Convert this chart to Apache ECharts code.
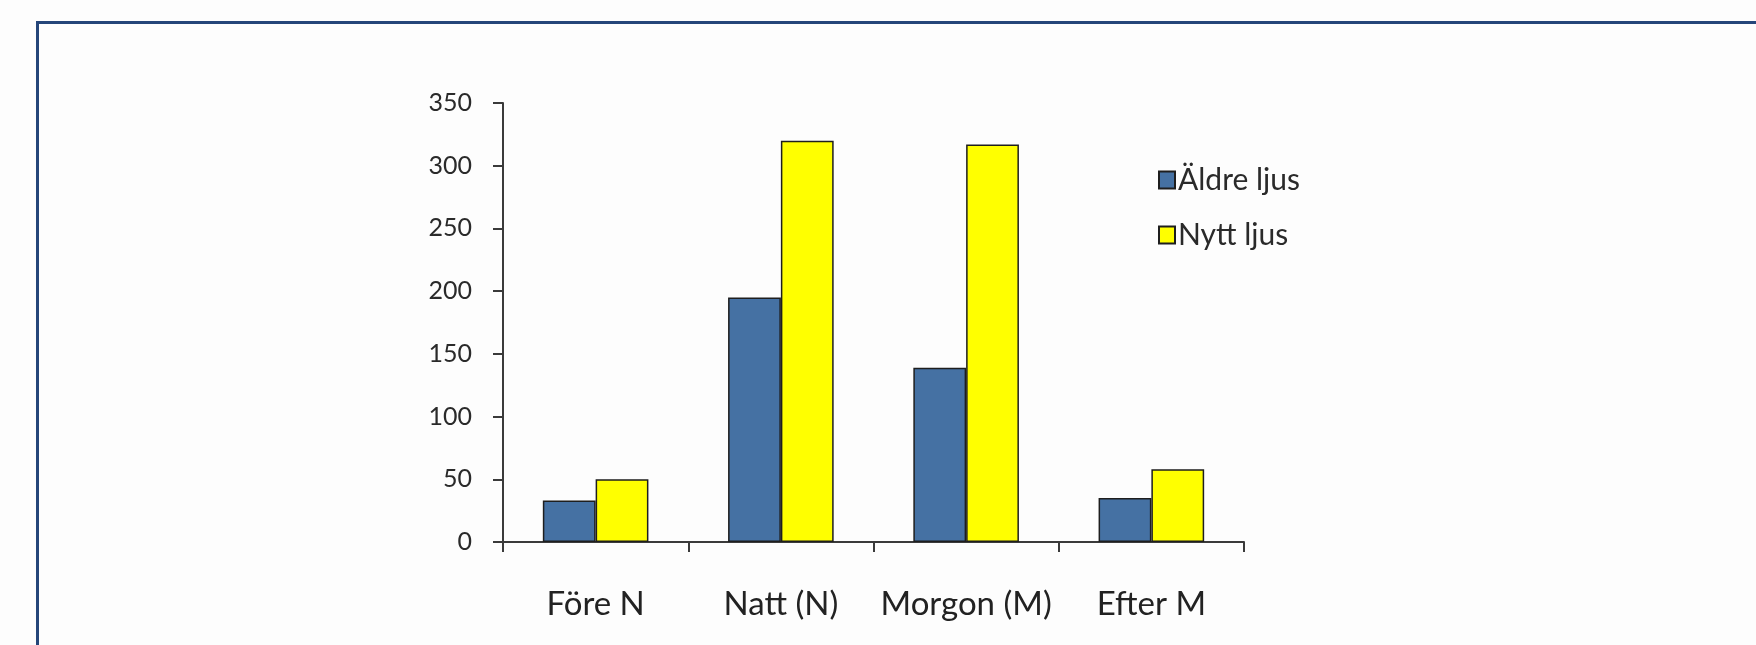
<!DOCTYPE html>
<html>
<head>
<meta charset="utf-8">
<title>Äldre ljus / Nytt ljus</title>
<script src="https://cdn.jsdelivr.net/npm/echarts@6/dist/echarts.min.js"></script>
<style>
  html, body { margin: 0; padding: 0; background: #fdfdfd; }
  #frame {
    position: absolute; left: 36px; top: 21px; right: -10px; bottom: -10px;
    border-left: 3px solid #25467a; border-top: 3px solid #25467a;
    box-sizing: border-box;
  }
  #chart { position: absolute; left: 0; top: 0; width: 1756px; height: 645px; }
</style>
</head>
<body>
<div id="frame"></div>
<div id="chart"></div>
<script>
// Time periods on the x axis
const categories = ['Före N', 'Natt (N)', 'Morgon (M)', 'Efter M'];
// Series names
const seriesNames = ['Äldre ljus', 'Nytt ljus'];
// Values per period
const olderLight = [33, 195, 139, 35];
const newLight = [50, 320, 317, 58];
// Value axis range
const yMin = 0;
const yMax = 350;
const yStep = 50;

const FONT = 'Lato, "Open Sans", sans-serif';
const axisColor = '#3a3a3a';
const barBorder = '#1e1e1e';

const chart = echarts.init(document.getElementById('chart'), null, { renderer: 'canvas' });

chart.setOption({
  backgroundColor: 'transparent',
  animation: false,
  grid: { left: 503, right: 512, top: 103, bottom: 103, containLabel: false },
  legend: {
    orient: 'vertical',
    left: 1153,
    top: 160,
    itemWidth: 16,
    itemHeight: 17,
    itemGap: 25,
    icon: 'rect',
    textStyle: { fontFamily: FONT, fontSize: 30, color: '#2a2a2a', padding: [0, 0, 0, -2] },
    data: seriesNames
  },
  xAxis: {
    type: 'category',
    data: categories,
    boundaryGap: true,
    axisLine: { lineStyle: { color: axisColor, width: 2 } },
    axisTick: { show: true, interval: 0, length: 10, inside: false, lineStyle: { color: axisColor, width: 2 } },
    axisLabel: { interval: 0, hideOverlap: false, fontFamily: FONT, fontSize: 33, color: '#222', margin: 46 },
    splitLine: { show: false }
  },
  yAxis: {
    type: 'value',
    min: yMin,
    max: yMax,
    interval: yStep,
    axisLine: { show: true, lineStyle: { color: axisColor, width: 2 } },
    axisTick: { show: true, length: 10, lineStyle: { color: axisColor, width: 2 } },
    axisLabel: { fontFamily: FONT, fontSize: 25, color: '#2a2a2a', margin: 31 },
    splitLine: { show: false }
  },
  series: [
    {
      name: seriesNames[0],
      type: 'bar',
      data: olderLight,
      barGap: '0%',
      barCategoryGap: '43%',
      itemStyle: { color: '#4571a3', borderColor: barBorder, borderWidth: 1.5 }
    },
    {
      name: seriesNames[1],
      type: 'bar',
      data: newLight,
      barGap: '0%',
      barCategoryGap: '43%',
      itemStyle: { color: '#ffff00', borderColor: barBorder, borderWidth: 1.5 }
    }
  ]
});
</script>
</body>
</html>
